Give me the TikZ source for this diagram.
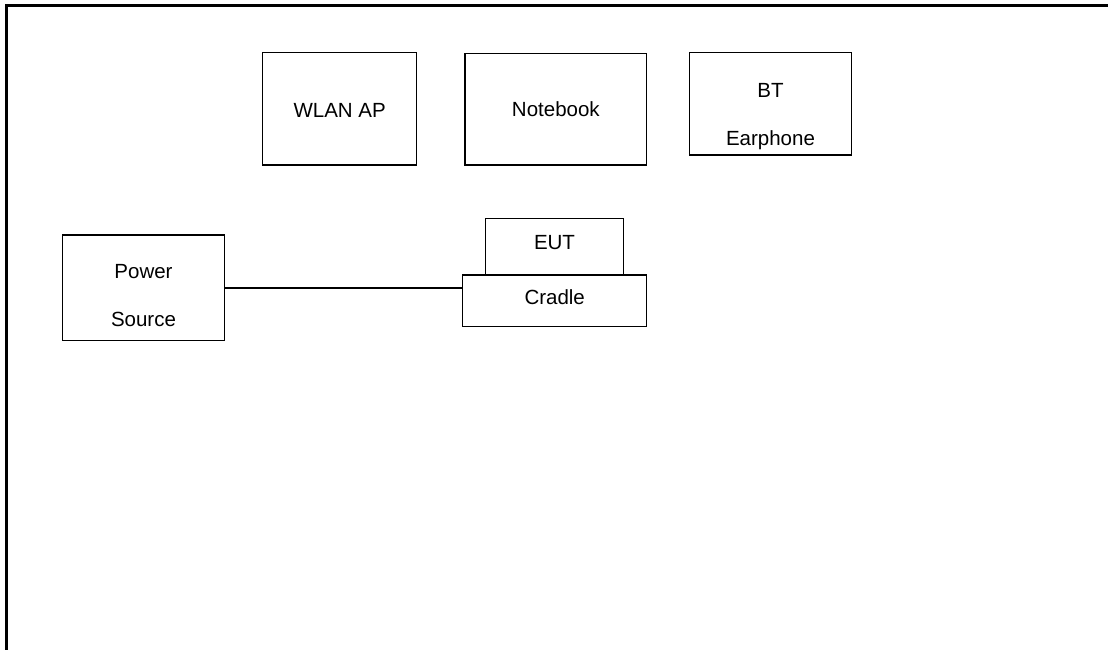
\documentclass[tikz,border=0pt]{standalone}
\usepackage{fontspec}
\setmainfont{Liberation Sans}
\begin{document}
\begin{tikzpicture}[x=1pt,y=-1pt,
  box/.style={draw=black, line width=1.2pt, rectangle, inner sep=0pt, outer sep=0pt, anchor=north west},
  lbl/.style={font=\fontsize{20.5}{48}\selectfont, align=center, inner sep=0pt},
  wire/.style={draw=black, line width=1.3pt},
  frame/.style={draw=black, line width=2.4pt}]
\useasboundingbox (0,0) rectangle (1108,649);

% outer border (open to the right and bottom)
\coordinate (fbl) at (6.3,652);
\coordinate (ftl) at (6.3,5.5);
\coordinate (ftr) at (1112,5.5);
\draw[frame] (fbl) -- (ftl) -- (ftr);

% top row of devices
\node[box, minimum width=154, minimum height=112.3] (wlan) at (262.7,52.7) {};
\node[lbl] (wlantxt) at ([yshift=-2]wlan.center) {WLAN AP};

\node[box, minimum width=181.7, minimum height=111.7] (nb) at (465,53.3) {};
\node[lbl] (nbtxt) at (nb.center) {Notebook};

\node[box, minimum width=162.4, minimum height=102.3] (bt) at (689.3,52.7) {};
\node[lbl] (bttxt) at ([yshift=-13]bt.center) {BT\\Earphone};

% power source and cradle with EUT
\node[box, minimum width=161.6, minimum height=105.7] (power) at (62.7,235) {};
\node[lbl] (powertxt) at ([yshift=-7.5]power.center) {Power\\Source};

\node[box, minimum width=137.6, minimum height=56.7] (eut) at (485.7,218.3) {};
\node[lbl] (euttxt) at ([yshift=4.3]eut.center) {EUT};

\node[box, minimum width=184, minimum height=51.7, fill=white] (cradle) at (462.7,275) {};
\node[lbl] (cradletxt) at ([yshift=3.5]cradle.center) {Cradle};

\draw[wire] (power.east) -- (power.east -| cradle.west);
\end{tikzpicture}
\end{document}
